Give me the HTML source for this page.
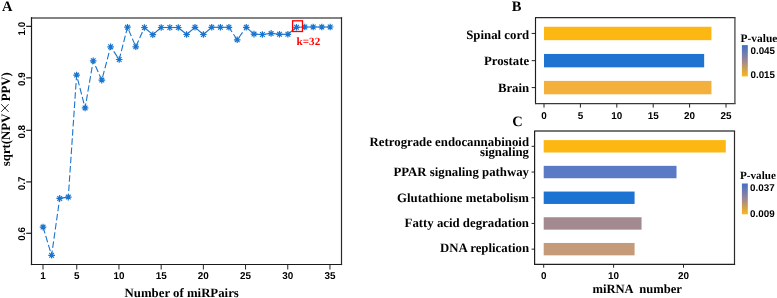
<!DOCTYPE html>
<html><head><meta charset="utf-8"><title>Figure</title>
<style>html,body{margin:0;padding:0;background:#fff;overflow:hidden}svg{display:block;will-change:transform;filter:blur(0.3px)}text{text-rendering:geometricPrecision}</style></head>
<body><svg width="777" height="298" viewBox="0 0 777 298">
<rect width="777" height="298" fill="#fff"/>
<line x1="30.9" y1="18.0" x2="342.1" y2="18.0" stroke="#5a5a5a" stroke-width="1.6"/>
<line x1="31.5" y1="17.2" x2="31.5" y2="265.1" stroke="#1a1a1a" stroke-width="1.2"/>
<line x1="30.9" y1="264.5" x2="342.1" y2="264.5" stroke="#1a1a1a" stroke-width="1.2"/>
<line x1="341.5" y1="17.2" x2="341.5" y2="265.1" stroke="#2a2a2a" stroke-width="1.2"/>
<line x1="26.2" y1="26.35" x2="31.5" y2="26.35" stroke="#1a1a1a" stroke-width="1.2"/>
<text transform="translate(24.8,28.700000000000003) rotate(-90)" text-anchor="middle" style="font-family:&quot;Liberation Sans&quot;,sans-serif;font-weight:bold;font-size:9.8px" fill="#000">1.0</text>
<line x1="26.2" y1="77.85" x2="31.5" y2="77.85" stroke="#1a1a1a" stroke-width="1.2"/>
<text transform="translate(24.8,79.1) rotate(-90)" text-anchor="middle" style="font-family:&quot;Liberation Sans&quot;,sans-serif;font-weight:bold;font-size:9.8px" fill="#000">0.9</text>
<line x1="26.2" y1="130.3" x2="31.5" y2="130.3" stroke="#1a1a1a" stroke-width="1.2"/>
<text transform="translate(24.8,131.75) rotate(-90)" text-anchor="middle" style="font-family:&quot;Liberation Sans&quot;,sans-serif;font-weight:bold;font-size:9.8px" fill="#000">0.8</text>
<line x1="26.2" y1="181.9" x2="31.5" y2="181.9" stroke="#1a1a1a" stroke-width="1.2"/>
<text transform="translate(24.8,183.35) rotate(-90)" text-anchor="middle" style="font-family:&quot;Liberation Sans&quot;,sans-serif;font-weight:bold;font-size:9.8px" fill="#000">0.7</text>
<line x1="26.2" y1="233.3" x2="31.5" y2="233.3" stroke="#1a1a1a" stroke-width="1.2"/>
<text transform="translate(24.8,233.9) rotate(-90)" text-anchor="middle" style="font-family:&quot;Liberation Sans&quot;,sans-serif;font-weight:bold;font-size:9.8px" fill="#000">0.6</text>
<line x1="43.00" y1="264.5" x2="43.00" y2="269.5" stroke="#222" stroke-width="1"/>
<text x="43.00" y="279.0" text-anchor="middle" style="font-family:&quot;Liberation Sans&quot;,sans-serif;font-weight:bold;font-size:9.9px" fill="#000">1</text>
<line x1="76.76" y1="264.5" x2="76.76" y2="269.5" stroke="#222" stroke-width="1"/>
<text x="76.76" y="279.0" text-anchor="middle" style="font-family:&quot;Liberation Sans&quot;,sans-serif;font-weight:bold;font-size:9.9px" fill="#000">5</text>
<line x1="118.96" y1="264.5" x2="118.96" y2="269.5" stroke="#222" stroke-width="1"/>
<text x="118.96" y="279.0" text-anchor="middle" style="font-family:&quot;Liberation Sans&quot;,sans-serif;font-weight:bold;font-size:9.9px" fill="#000">10</text>
<line x1="161.16" y1="264.5" x2="161.16" y2="269.5" stroke="#222" stroke-width="1"/>
<text x="161.16" y="279.0" text-anchor="middle" style="font-family:&quot;Liberation Sans&quot;,sans-serif;font-weight:bold;font-size:9.9px" fill="#000">15</text>
<line x1="203.36" y1="264.5" x2="203.36" y2="269.5" stroke="#222" stroke-width="1"/>
<text x="203.36" y="279.0" text-anchor="middle" style="font-family:&quot;Liberation Sans&quot;,sans-serif;font-weight:bold;font-size:9.9px" fill="#000">20</text>
<line x1="245.56" y1="264.5" x2="245.56" y2="269.5" stroke="#222" stroke-width="1"/>
<text x="245.56" y="279.0" text-anchor="middle" style="font-family:&quot;Liberation Sans&quot;,sans-serif;font-weight:bold;font-size:9.9px" fill="#000">25</text>
<line x1="287.76" y1="264.5" x2="287.76" y2="269.5" stroke="#222" stroke-width="1"/>
<text x="287.76" y="279.0" text-anchor="middle" style="font-family:&quot;Liberation Sans&quot;,sans-serif;font-weight:bold;font-size:9.9px" fill="#000">30</text>
<line x1="329.96" y1="264.5" x2="329.96" y2="269.5" stroke="#222" stroke-width="1"/>
<text x="329.96" y="279.0" text-anchor="middle" style="font-family:&quot;Liberation Sans&quot;,sans-serif;font-weight:bold;font-size:9.9px" fill="#000">35</text>
<text x="124.6" y="296.6" style="font-family:&quot;Liberation Serif&quot;,serif;font-weight:bold;font-size:12.8px" fill="#000">Number of miRPairs</text>
<text transform="translate(10.4,166.2) rotate(-90)" style="font-family:&quot;Liberation Serif&quot;,serif;font-weight:bold;font-size:12.8px" fill="#000">sqrt(NPV</text>
<text transform="translate(10.4,101.3) rotate(-90)" style="font-family:&quot;Liberation Serif&quot;,serif;font-weight:bold;font-size:12.8px" fill="#000">PPV)</text>
<path d="M1.2 104.2L8.6 111.8M1.2 111.8L8.6 104.2" stroke="#111" stroke-width="0.9" fill="none"/>
<text x="2.0" y="10.6" style="font-family:&quot;Liberation Serif&quot;,serif;font-weight:bold;font-size:14.5px" fill="#000">A</text>
<g stroke="#1874CD" stroke-width="1.1" fill="none"><line x1="43.05" y1="227.1" x2="51.6" y2="255.3" stroke-dasharray="6.55 2.7" stroke-dashoffset="0.00"/><line x1="51.6" y1="255.3" x2="59.7" y2="198.4" stroke-dasharray="6.55 2.7" stroke-dashoffset="1.72"/><line x1="59.7" y1="198.4" x2="68.3" y2="197.1"/><line x1="68.3" y1="197.1" x2="76.6" y2="75.1" stroke-dasharray="6.55 2.7" stroke-dashoffset="3.14"/><line x1="76.6" y1="75.1" x2="85.1" y2="107.9" stroke-dasharray="6.55 2.7" stroke-dashoffset="5.17"/><line x1="85.1" y1="107.9" x2="93.2" y2="60.8" stroke-dasharray="6.55 2.7" stroke-dashoffset="2.05"/><line x1="93.2" y1="60.8" x2="101.8" y2="80.1" stroke-dasharray="6.55 2.7" stroke-dashoffset="3.60"/><line x1="101.8" y1="80.1" x2="110.6" y2="46.8" stroke-dasharray="6.55 2.7" stroke-dashoffset="6.23"/><line x1="110.6" y1="46.8" x2="119.2" y2="59.5" stroke-dasharray="6.55 2.7" stroke-dashoffset="3.67"/><line x1="119.2" y1="59.5" x2="127.5" y2="27.2" stroke-dasharray="6.55 2.7" stroke-dashoffset="0.51"/><line x1="127.5" y1="27.2" x2="135.8" y2="46.8" stroke-dasharray="6.55 2.7" stroke-dashoffset="6.11"/><line x1="135.8" y1="46.8" x2="144.4" y2="27.5" stroke-dasharray="6.55 2.7" stroke-dashoffset="8.89"/><line x1="144.4" y1="27.5" x2="152.8" y2="34.7"/><line x1="152.8" y1="34.7" x2="161.2" y2="27.5"/><line x1="161.2" y1="27.5" x2="169.8" y2="27.5"/><line x1="169.8" y1="27.5" x2="178.3" y2="27.5"/><line x1="178.3" y1="27.5" x2="186.6" y2="34.5"/><line x1="186.6" y1="34.5" x2="195" y2="27.3"/><line x1="195" y1="27.3" x2="203.4" y2="34.5"/><line x1="203.4" y1="34.5" x2="211.7" y2="27.3"/><line x1="211.7" y1="27.3" x2="220.4" y2="27.3"/><line x1="220.4" y1="27.3" x2="228.9" y2="27.3"/><line x1="228.9" y1="27.3" x2="237.2" y2="39.8" stroke-dasharray="6.55 2.7" stroke-dashoffset="0.92"/><line x1="237.2" y1="39.8" x2="246.3" y2="27.3" stroke-dasharray="6.55 2.7" stroke-dashoffset="6.67"/><line x1="246.3" y1="27.3" x2="254" y2="34.1"/><line x1="254" y1="34.1" x2="262.4" y2="34.5"/><line x1="262.4" y1="34.5" x2="271.1" y2="33.4"/><line x1="271.1" y1="33.4" x2="279.5" y2="34.3"/><line x1="279.5" y1="34.3" x2="287.9" y2="34.3"/><line x1="287.9" y1="34.3" x2="296.5" y2="27.3"/><line x1="296.5" y1="27.3" x2="304.8" y2="27.0"/><line x1="304.8" y1="27.0" x2="313.2" y2="27.0"/><line x1="313.2" y1="27.0" x2="321.8" y2="27.0"/><line x1="321.8" y1="27.0" x2="330.2" y2="27.0"/></g>
<path d="M39.75 227.10H46.35M43.05 223.80V230.40M40.70 224.75L45.40 229.45M40.70 229.45L45.40 224.75M48.30 255.30H54.90M51.60 252.00V258.60M49.25 252.95L53.95 257.65M49.25 257.65L53.95 252.95M56.40 198.40H63.00M59.70 195.10V201.70M57.35 196.05L62.05 200.75M57.35 200.75L62.05 196.05M65.00 197.10H71.60M68.30 193.80V200.40M65.95 194.75L70.65 199.45M65.95 199.45L70.65 194.75M73.30 75.10H79.90M76.60 71.80V78.40M74.25 72.75L78.95 77.45M74.25 77.45L78.95 72.75M81.80 107.90H88.40M85.10 104.60V111.20M82.75 105.55L87.45 110.25M82.75 110.25L87.45 105.55M89.90 60.80H96.50M93.20 57.50V64.10M90.85 58.45L95.55 63.15M90.85 63.15L95.55 58.45M98.50 80.10H105.10M101.80 76.80V83.40M99.45 77.75L104.15 82.45M99.45 82.45L104.15 77.75M107.30 46.80H113.90M110.60 43.50V50.10M108.25 44.45L112.95 49.15M108.25 49.15L112.95 44.45M115.90 59.50H122.50M119.20 56.20V62.80M116.85 57.15L121.55 61.85M116.85 61.85L121.55 57.15M124.20 27.20H130.80M127.50 23.90V30.50M125.15 24.85L129.85 29.55M125.15 29.55L129.85 24.85M132.50 46.80H139.10M135.80 43.50V50.10M133.45 44.45L138.15 49.15M133.45 49.15L138.15 44.45M141.10 27.50H147.70M144.40 24.20V30.80M142.05 25.15L146.75 29.85M142.05 29.85L146.75 25.15M149.50 34.70H156.10M152.80 31.40V38.00M150.45 32.35L155.15 37.05M150.45 37.05L155.15 32.35M157.90 27.50H164.50M161.20 24.20V30.80M158.85 25.15L163.55 29.85M158.85 29.85L163.55 25.15M166.50 27.50H173.10M169.80 24.20V30.80M167.45 25.15L172.15 29.85M167.45 29.85L172.15 25.15M175.00 27.50H181.60M178.30 24.20V30.80M175.95 25.15L180.65 29.85M175.95 29.85L180.65 25.15M183.30 34.50H189.90M186.60 31.20V37.80M184.25 32.15L188.95 36.85M184.25 36.85L188.95 32.15M191.70 27.30H198.30M195.00 24.00V30.60M192.65 24.95L197.35 29.65M192.65 29.65L197.35 24.95M200.10 34.50H206.70M203.40 31.20V37.80M201.05 32.15L205.75 36.85M201.05 36.85L205.75 32.15M208.40 27.30H215.00M211.70 24.00V30.60M209.35 24.95L214.05 29.65M209.35 29.65L214.05 24.95M217.10 27.30H223.70M220.40 24.00V30.60M218.05 24.95L222.75 29.65M218.05 29.65L222.75 24.95M225.60 27.30H232.20M228.90 24.00V30.60M226.55 24.95L231.25 29.65M226.55 29.65L231.25 24.95M233.90 39.80H240.50M237.20 36.50V43.10M234.85 37.45L239.55 42.15M234.85 42.15L239.55 37.45M243.00 27.30H249.60M246.30 24.00V30.60M243.95 24.95L248.65 29.65M243.95 29.65L248.65 24.95M250.70 34.10H257.30M254.00 30.80V37.40M251.65 31.75L256.35 36.45M251.65 36.45L256.35 31.75M259.10 34.50H265.70M262.40 31.20V37.80M260.05 32.15L264.75 36.85M260.05 36.85L264.75 32.15M267.80 33.40H274.40M271.10 30.10V36.70M268.75 31.05L273.45 35.75M268.75 35.75L273.45 31.05M276.20 34.30H282.80M279.50 31.00V37.60M277.15 31.95L281.85 36.65M277.15 36.65L281.85 31.95M284.60 34.30H291.20M287.90 31.00V37.60M285.55 31.95L290.25 36.65M285.55 36.65L290.25 31.95M293.20 27.30H299.80M296.50 24.00V30.60M294.15 24.95L298.85 29.65M294.15 29.65L298.85 24.95M301.50 27.00H308.10M304.80 23.70V30.30M302.45 24.65L307.15 29.35M302.45 29.35L307.15 24.65M309.90 27.00H316.50M313.20 23.70V30.30M310.85 24.65L315.55 29.35M310.85 29.35L315.55 24.65M318.50 27.00H325.10M321.80 23.70V30.30M319.45 24.65L324.15 29.35M319.45 29.35L324.15 24.65M326.90 27.00H333.50M330.20 23.70V30.30M327.85 24.65L332.55 29.35M327.85 29.35L332.55 24.65" stroke="#1874CD" stroke-width="1.2" fill="none"/>
<rect x="292.6" y="20.8" width="9.9" height="10.7" fill="none" stroke="#FF0000" stroke-width="1.3"/>
<text x="296.6" y="45" style="font-family:&quot;Liberation Serif&quot;,serif;font-weight:bold;font-size:11.1px" fill="#FF0000">k=32</text>
<line x1="535.0" y1="17.6" x2="735.5" y2="17.6" stroke="#2a2a2a" stroke-width="1.15"/>
<line x1="535.5" y1="17.6" x2="535.5" y2="104.1" stroke="#1e1e1e" stroke-width="1.15"/>
<line x1="535.0" y1="103.6" x2="735.5" y2="103.6" stroke="#3a3a3a" stroke-width="1.15"/>
<line x1="734.9" y1="17.6" x2="734.9" y2="104.1" stroke="#555" stroke-width="1.4"/>
<rect x="544.00" y="26.75" width="167.44" height="13.4" fill="#FDB713"/>
<line x1="531.7" y1="33.45" x2="535.5" y2="33.45" stroke="#222" stroke-width="1"/>
<text x="529.2" y="38.9" text-anchor="end" style="font-family:&quot;Liberation Serif&quot;,serif;font-weight:bold;font-size:12.8px" fill="#000">Spinal cord</text>
<rect x="544.00" y="53.95" width="160.16" height="13.4" fill="#1F73D1"/>
<line x1="531.7" y1="60.65" x2="535.5" y2="60.65" stroke="#222" stroke-width="1"/>
<text x="529.2" y="64.85" text-anchor="end" style="font-family:&quot;Liberation Serif&quot;,serif;font-weight:bold;font-size:12.8px" fill="#000">Prostate</text>
<rect x="544.00" y="80.90" width="167.44" height="13.4" fill="#F4B03C"/>
<line x1="531.7" y1="87.6" x2="535.5" y2="87.6" stroke="#222" stroke-width="1"/>
<text x="529.2" y="92.3" text-anchor="end" style="font-family:&quot;Liberation Serif&quot;,serif;font-weight:bold;font-size:12.8px" fill="#000">Brain</text>
<line x1="544.00" y1="103.6" x2="544.00" y2="107.6" stroke="#222" stroke-width="1"/>
<text x="544.00" y="118.6" text-anchor="middle" style="font-family:&quot;Liberation Sans&quot;,sans-serif;font-weight:bold;font-size:9.9px" fill="#000">0</text>
<line x1="580.40" y1="103.6" x2="580.40" y2="107.6" stroke="#222" stroke-width="1"/>
<text x="580.40" y="118.6" text-anchor="middle" style="font-family:&quot;Liberation Sans&quot;,sans-serif;font-weight:bold;font-size:9.9px" fill="#000">5</text>
<line x1="616.80" y1="103.6" x2="616.80" y2="107.6" stroke="#222" stroke-width="1"/>
<text x="616.80" y="118.6" text-anchor="middle" style="font-family:&quot;Liberation Sans&quot;,sans-serif;font-weight:bold;font-size:9.9px" fill="#000">10</text>
<line x1="653.20" y1="103.6" x2="653.20" y2="107.6" stroke="#222" stroke-width="1"/>
<text x="653.20" y="118.6" text-anchor="middle" style="font-family:&quot;Liberation Sans&quot;,sans-serif;font-weight:bold;font-size:9.9px" fill="#000">15</text>
<line x1="689.60" y1="103.6" x2="689.60" y2="107.6" stroke="#222" stroke-width="1"/>
<text x="689.60" y="118.6" text-anchor="middle" style="font-family:&quot;Liberation Sans&quot;,sans-serif;font-weight:bold;font-size:9.9px" fill="#000">20</text>
<line x1="726.00" y1="103.6" x2="726.00" y2="107.6" stroke="#222" stroke-width="1"/>
<text x="726.00" y="118.6" text-anchor="middle" style="font-family:&quot;Liberation Sans&quot;,sans-serif;font-weight:bold;font-size:9.9px" fill="#000">25</text>
<text x="511.8" y="10.5" style="font-family:&quot;Liberation Serif&quot;,serif;font-weight:bold;font-size:14.5px" fill="#000">B</text>
<defs><linearGradient id="gB" x1="0" y1="0" x2="0" y2="1"><stop offset="0" stop-color="#3F6FC8"/><stop offset="0.5" stop-color="#9C8796"/><stop offset="1" stop-color="#FDB713"/></linearGradient><linearGradient id="gC" x1="0" y1="0" x2="0" y2="1"><stop offset="0" stop-color="#3F6FC8"/><stop offset="0.5" stop-color="#9C8796"/><stop offset="1" stop-color="#FDB713"/></linearGradient></defs>
<text x="740.6" y="41.8" style="font-family:&quot;Liberation Serif&quot;,serif;font-weight:bold;font-size:11.4px" fill="#000">P-value</text>
<rect x="741.9" y="45.1" width="5.9" height="31.3" fill="url(#gB)"/>
<text x="750.5" y="53.8" style="font-family:&quot;Liberation Sans&quot;,sans-serif;font-weight:bold;font-size:9.8px" fill="#000">0.045</text>
<text x="750.5" y="78.2" style="font-family:&quot;Liberation Sans&quot;,sans-serif;font-weight:bold;font-size:9.8px" fill="#000">0.015</text>
<line x1="534.1" y1="131.0" x2="735.1" y2="131.0" stroke="#4a4a4a" stroke-width="1.4"/>
<line x1="534.6" y1="131.0" x2="534.6" y2="264.9" stroke="#1e1e1e" stroke-width="1.2"/>
<line x1="534.1" y1="264.4" x2="735.1" y2="264.4" stroke="#1e1e1e" stroke-width="1.1"/>
<line x1="734.5" y1="131.0" x2="734.5" y2="264.9" stroke="#2a2a2a" stroke-width="1.2"/>
<rect x="543.70" y="140.10" width="182.09" height="12.4" fill="#FDB713"/>
<line x1="531.6" y1="146.3" x2="534.6" y2="146.3" stroke="#222" stroke-width="1"/>
<text x="529.0" y="145.6" text-anchor="end" style="font-family:&quot;Liberation Serif&quot;,serif;font-weight:bold;font-size:12.8px" fill="#000">Retrograde endocannabinoid</text>
<text x="529.0" y="155.7" text-anchor="end" style="font-family:&quot;Liberation Serif&quot;,serif;font-weight:bold;font-size:12.8px" fill="#000">signaling</text>
<rect x="543.70" y="165.85" width="132.81" height="12.4" fill="#5B7AC6"/>
<line x1="531.6" y1="172.05" x2="534.6" y2="172.05" stroke="#222" stroke-width="1"/>
<text x="529.0" y="175.5" text-anchor="end" style="font-family:&quot;Liberation Serif&quot;,serif;font-weight:bold;font-size:12.8px" fill="#000">PPAR signaling pathway</text>
<rect x="543.70" y="191.55" width="90.87" height="12.4" fill="#1C73D2"/>
<line x1="531.6" y1="197.75" x2="534.6" y2="197.75" stroke="#222" stroke-width="1"/>
<text x="529.0" y="201.7" text-anchor="end" style="font-family:&quot;Liberation Serif&quot;,serif;font-weight:bold;font-size:12.8px" fill="#000">Glutathione metabolism</text>
<rect x="543.70" y="217.25" width="97.86" height="12.4" fill="#A28A90"/>
<line x1="531.6" y1="223.45" x2="534.6" y2="223.45" stroke="#222" stroke-width="1"/>
<text x="529.0" y="226.95" text-anchor="end" style="font-family:&quot;Liberation Serif&quot;,serif;font-weight:bold;font-size:12.8px" fill="#000">Fatty acid degradation</text>
<rect x="543.70" y="242.95" width="90.87" height="12.4" fill="#C59A78"/>
<line x1="531.6" y1="249.15" x2="534.6" y2="249.15" stroke="#222" stroke-width="1"/>
<text x="529.0" y="252.3" text-anchor="end" style="font-family:&quot;Liberation Serif&quot;,serif;font-weight:bold;font-size:12.8px" fill="#000">DNA replication</text>
<line x1="543.70" y1="264.4" x2="543.70" y2="267.7" stroke="#222" stroke-width="1"/>
<text x="543.70" y="278.8" text-anchor="middle" style="font-family:&quot;Liberation Sans&quot;,sans-serif;font-weight:bold;font-size:9.9px" fill="#000">0</text>
<line x1="613.60" y1="264.4" x2="613.60" y2="267.7" stroke="#222" stroke-width="1"/>
<text x="613.60" y="278.8" text-anchor="middle" style="font-family:&quot;Liberation Sans&quot;,sans-serif;font-weight:bold;font-size:9.9px" fill="#000">10</text>
<line x1="683.50" y1="264.4" x2="683.50" y2="267.7" stroke="#222" stroke-width="1"/>
<text x="683.50" y="278.8" text-anchor="middle" style="font-family:&quot;Liberation Sans&quot;,sans-serif;font-weight:bold;font-size:9.9px" fill="#000">20</text>
<text x="592.4" y="292.9" style="font-family:&quot;Liberation Serif&quot;,serif;font-weight:bold;font-size:12.6px;white-space:pre" fill="#000" xml:space="preserve">miRNA  number</text>
<text x="512.3" y="126.1" style="font-family:&quot;Liberation Serif&quot;,serif;font-weight:bold;font-size:14.5px" fill="#000">C</text>
<text x="740.1" y="179.0" style="font-family:&quot;Liberation Serif&quot;,serif;font-weight:bold;font-size:11.1px" fill="#000">P-value</text>
<rect x="741.9" y="183.5" width="5.9" height="30.8" fill="url(#gC)"/>
<text x="750.1" y="191.2" style="font-family:&quot;Liberation Sans&quot;,sans-serif;font-weight:bold;font-size:9.8px" fill="#000">0.037</text>
<text x="750.1" y="216.9" style="font-family:&quot;Liberation Sans&quot;,sans-serif;font-weight:bold;font-size:9.8px" fill="#000">0.009</text>
</svg></body></html>
